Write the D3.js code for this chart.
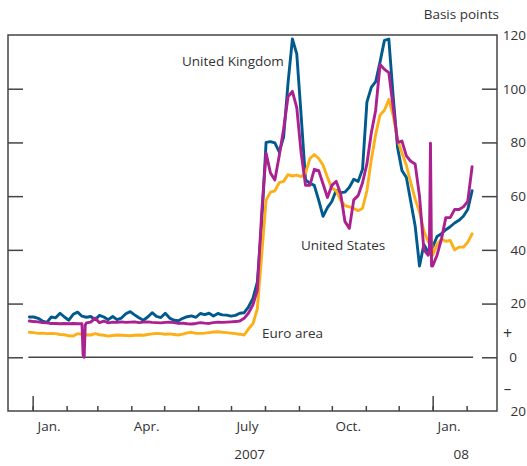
<!DOCTYPE html>
<html><head><meta charset="utf-8">
<script src="https://cdn.jsdelivr.net/npm/d3@7"></script>
<style>
html,body{margin:0;padding:0;background:#fff;}
svg text{font-family:"Open Sans",sans-serif;fill:#333;}
</style></head>
<body>
<svg id="chart" width="527" height="466"></svg>
<script>
// ---------- data ----------
const startDate = "2006-12-29";
const dayOffsets = [0,4,8,12,16,20,24,28,32,36,40,44,48,49,50,51,52,56,60,64,68,72,76,80,84,88,92,96,100,104,108,112,116,120,124,128,132,136,140,144,148,152,156,160,164,168,172,176,180,184,188,192,196,200,204,208,212,216,220,224,228,232,236,240,244,248,252,256,260,264,268,272,276,280,284,288,292,296,300,304,308,312,316,320,324,328,332,336,340,344,348,352,356,360,364,365,366,367,368,372,376,380,384,388,392,396,400,404];
const ukValues = [15,15,14.5,13.5,13,15,14.7,16.4,15,13.8,16,16.8,15.3,
 15.2,15.1,15.0,
 14.9,15.2,14,15.6,15,14,15.2,14,14.6,16.2,17,15.8,14.7,13.8,15,16.6,15.2,14.8,16.4,14.6,13.8,13.6,14.5,15.1,15.4,14.9,16.3,15.9,16.4,15.4,16.3,15.8,15.7,15.3,15.6,16.4,16.6,18.8,21.9,28,
 50,80,80.3,79.8,76.5,82,102,118.5,113,90,66,64.8,64,58.5,52.5,55.7,58,62.2,61.3,61.5,63.3,66.3,65.5,70,95,100.5,102.6,110,118,118.5,97,78,69.5,67,58,49,34,42,39,
 39.5,40,40.5,
 41,45,46,47.5,48.6,50,51,52.5,55,62];
const usValues = [13.5,13.3,13.2,12.9,12.8,12.6,12.6,12.5,12.6,12.5,12.6,12.5,12.5,
 1,0,12,
 12.8,13.1,14.6,12.9,13.5,12.8,13.1,13,13.2,13,13.1,13.2,12.9,13.1,13.2,13,12.9,12.8,13,13.1,12.9,12.6,12.7,12.5,12.4,12.6,12.9,12.7,12.6,12.9,13.1,13,13.1,13.2,13.3,13.5,14.5,16.5,19.5,25,
 54,76,68.6,66,75,85,97,99,93,76,64,64,70,69.5,64.5,59.5,64,65.5,61,50.5,48,58.6,60.2,65,72,83.5,92,109,107.2,106,93,80,80.5,75,73,72,60,40,38,
 40,79.7,34,
 34,38,44,52,52,55,55,56,58,71];
const euroValues = [9.3,9.2,8.9,9.0,8.8,8.9,8.8,8.5,8.4,8.0,7.9,8.8,8.6,
 8.4,8.3,8.3,
 8.4,8.3,8.8,8.4,8.2,7.9,8.1,8.3,8.2,8.1,8.0,8.2,8.3,8.2,8.5,8.7,8.9,8.8,8.6,8.7,8.5,8.3,8.6,9.1,9.3,8.9,8.9,9.0,9.2,9.4,9.5,9.3,9.2,9.0,8.8,8.6,8.3,10.6,12.5,18,
 38,58.5,61.5,62,65,65.5,68,67.5,67.8,67.3,68.6,74,75.5,74,71.5,67,63,62,58.5,56.5,56,55.4,54.6,55.5,62,73.5,83,90.2,92,96,90,81,76,71.5,65,59,54,47,43,
 43.5,44,43,
 38,42,44,43.2,43.5,40,41,41,42.8,46];
const seriesNames = ["United Kingdom","Euro area","United States"];
const monthLabels = [["2007-01-16","Jan."],["2007-04-15","Apr."],["2007-07-16","July"],["2007-10-16","Oct."],["2008-01-16","Jan."]];
const yearLabels = [["2007-07-18","2007"],["2008-01-27","08"]];
const yTickValues = [100,80,60,40,20,0];
const yLabelValues = [120,100,80,60,40,20,0,-20];

// ---------- layout ----------
const L = 8, R = 497, T = 35, B = 411;
const svg = d3.select("#chart");
const parse = d3.utcParse("%Y-%m-%d");
const x = d3.scaleUtc().domain([new Date(Date.UTC(2006,11,9,12)), new Date(Date.UTC(2008,1,28,17))]).range([L, R]);
const y = d3.scaleLinear().domain([-20,120]).range([B, T]);
const start = parse(startDate);
const dates = dayOffsets.map(d => d3.utcDay.offset(start, d));

const colors = {"United Kingdom":"#005a8e","United States":"#ab2190","Euro area":"#fbb01a"};
const valuesByName = {"United Kingdom":ukValues,"United States":usValues,"Euro area":euroValues};

const axisColor = "#444";

// zero line
svg.append("line")
  .attr("x1", x(dates[0]) - 1).attr("x2", x(dates[dates.length-1]) + 1)
  .attr("y1", y(0)).attr("y2", y(0))
  .attr("stroke", axisColor).attr("stroke-width", 1.5);

// series lines
const line = d3.line().x((d,i) => x(dates[i])).y(d => y(d));
seriesNames.forEach(name => {
  svg.append("path").datum(valuesByName[name])
    .attr("d", line)
    .attr("fill","none")
    .attr("stroke", colors[name])
    .attr("stroke-width", 2.9)
    .attr("stroke-linejoin","round")
    .attr("stroke-linecap","round");
});

// frame
svg.append("rect").attr("x", L).attr("y", T).attr("width", R-L).attr("height", B-T)
  .attr("fill","none").attr("stroke", axisColor).attr("stroke-width", 1.5);

// y ticks (left & right, inward)
const yRight = d3.axisRight(y).tickValues(yTickValues).tickSize(-15).tickFormat("");
const yLeft = d3.axisLeft(y).tickValues(yTickValues).tickSize(-15).tickFormat("");
[[yRight,R],[yLeft,L]].forEach(([ax,pos]) => {
  const g = svg.append("g").attr("transform",`translate(${pos},0)`).call(ax);
  g.select(".domain").remove();
  g.selectAll("line").attr("stroke", axisColor).attr("stroke-width", 1.5);
});

// x ticks
const xMinor = d3.axisBottom(x).ticks(d3.utcMonth.every(1)).tickSize(-5).tickFormat("");
const xMajor = d3.axisBottom(x).ticks(d3.utcYear.every(1)).tickSize(-15).tickFormat("");
[xMinor,xMajor].forEach(ax => {
  const g = svg.append("g").attr("transform",`translate(0,${B})`).call(ax);
  g.select(".domain").remove();
  g.selectAll("line").attr("stroke", axisColor).attr("stroke-width", 1.5);
});

// y labels
svg.selectAll(".ylab").data(yLabelValues).enter().append("text")
  .attr("x", d => d === 0 ? 517 : 526)
  .attr("y", d => y(d))
  .attr("dy", "0.36em")
  .attr("text-anchor","end")
  .attr("font-size", 13.5)
  .text(d => Math.abs(d));
svg.append("text").attr("x", 507.5).attr("y", y(9)).attr("dy","0.36em").attr("text-anchor","middle").attr("font-size",16).text("+");
svg.append("text").attr("x", 507.5).attr("y", y(-11.5)).attr("dy","0.36em").attr("text-anchor","middle").attr("font-size",15).text("\u2013");
svg.append("text").attr("x", 499).attr("y", 19).attr("text-anchor","end").attr("font-size",13.5).text("Basis points");

// x labels
svg.selectAll(".mlab").data(monthLabels).enter().append("text")
  .attr("x", d => x(parse(d[0]))).attr("y", 431)
  .attr("text-anchor","middle").attr("font-size",13.5).text(d => d[1]);
svg.selectAll(".ylab2").data(yearLabels).enter().append("text")
  .attr("x", d => x(parse(d[0]))).attr("y", 459)
  .attr("text-anchor","middle").attr("font-size",13.5).text(d => d[1]);

// series labels
const seriesLabelPos = {"United Kingdom":[182,66],"United States":[301,250],"Euro area":[262,338]};
seriesNames.forEach(name => {
  svg.append("text").attr("x", seriesLabelPos[name][0]).attr("y", seriesLabelPos[name][1])
    .attr("font-size",13.5).text(name);
});
</script>
</body></html>
